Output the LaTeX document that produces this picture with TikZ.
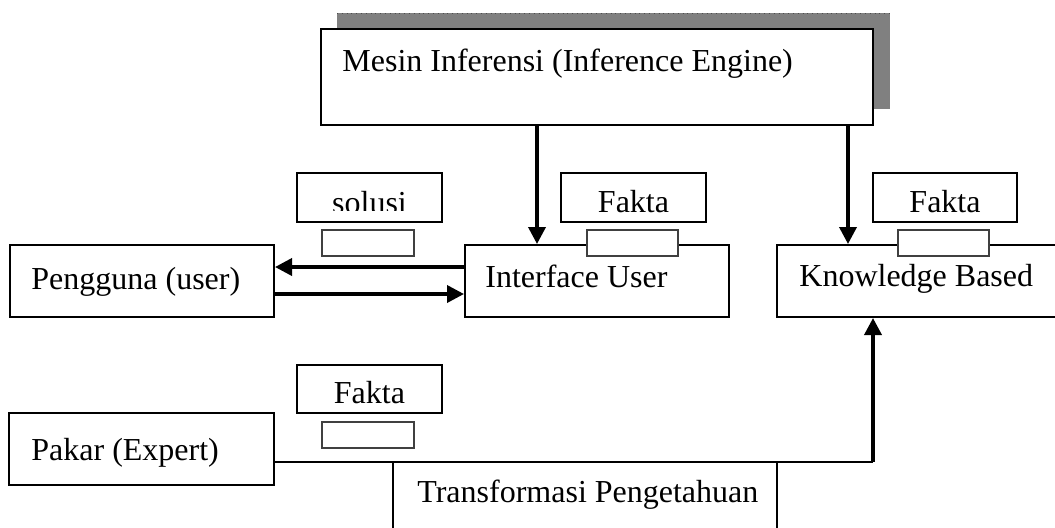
\documentclass[tikz,border=0pt]{standalone}
\usepackage{fontspec}
\setmainfont{Liberation Serif}
\usetikzlibrary{arrows.meta,fit}

\tikzset{
  x=0.5pt, y=-0.5pt,
  box/.style={draw, line width=1pt, fill=white, inner sep=0pt},
  tagbox/.style={draw, line width=1pt, fill=white, inner sep=0pt},
  slot/.style={draw=black!75, line width=0.6pt, fill=white, inner sep=0pt},
  lbl/.style={inner sep=0pt, anchor=base west, font=\fontsize{16}{19}\selectfont},
  tagtxt/.style={inner sep=0pt, anchor=base, font=\fontsize{16}{19}\selectfont},
  flow/.style={line width=1.8pt, -{Triangle[length=8.5pt,width=8.5pt]}},
  link/.style={line width=1pt},
}

\begin{document}
\begin{tikzpicture}
\clip (0,0) rectangle (1055,527);
\fill[white] (0,0) rectangle (1055,527);

% inference engine with its drop shadow
\fill[black!50] (337,13) rectangle (890,109);
\draw[black!70, line width=0.4pt, dotted] (337,13) -- (890,13);
\node[box, fit={(321,29)(873,125)}] (engine) {};
\node[lbl] (enginetxt) at (342,71) {Mesin Inferensi (Inference Engine)};

% main blocks
\node[box, fit={(10,245)(274,317)}] (user) {};
\node[lbl] (usertxt) at (31,289) {Pengguna (user)};
\node[box, fit={(465,245)(729,317)}] (iface) {};
\node[lbl] (ifacetxt) at (485,287) {Interface User};
\node[box, fit={(777,245)(1065,317)}] (kb) {};
\node[lbl] (kbtxt) at (799,286) {Knowledge Based};
\node[box, fit={(9,413)(274,485)}] (expert) {};
\node[lbl] (experttxt) at (31,460) {Pakar (Expert)};
\node[box, fit={(393,462)(777,560)}] (trans) {};
\node[lbl] (transtxt) at (417,502) {Transformasi Pengetahuan};

% labels above the flows
\node[tagbox, fit={(297,173)(442,222)}] (solusi) {};
\begin{scope}
  \clip (297,173) rectangle (442,210);
  \node[tagtxt] (solusitxt) at (369.5,213) {solusi};
\end{scope}
\node[tagbox, fit={(561,173)(706,222)}] (fakta1) {};
\node[tagtxt] (fakta1txt) at (633.5,212) {Fakta};
\node[tagbox, fit={(873,173)(1017,222)}] (fakta2) {};
\node[tagtxt] (fakta2txt) at (945,212) {Fakta};
\node[tagbox, fit={(297,365)(442,413)}] (fakta3) {};
\node[tagtxt] (fakta3txt) at (369.5,403) {Fakta};

% empty slots
\node[slot, fit={(322,230)(414,256)}] (slot1) {};
\node[slot, fit={(587,230)(678,256)}] (slot2) {};
\node[slot, fit={(898,230)(989,256)}] (slot3) {};
\node[slot, fit={(322,422)(414,448)}] (slot4) {};

% connectors
\coordinate (a1) at (537,0);
\coordinate (a2) at (848,0);
\coordinate (h1) at (0,267);
\coordinate (h2) at (0,294);
\coordinate (bend) at (873,462);

\draw[flow] (a1 |- engine.south) -- (a1 |- iface.north);
\draw[flow] (a2 |- engine.south) -- (a2 |- kb.north);
\draw[flow] (iface.west |- h1) -- (user.east |- h1);
\draw[flow] (user.east |- h2) -- (iface.west |- h2);
\draw[link] (expert.east |- bend) -- (bend);
\draw[flow] (bend) -- (bend |- kb.south);
\end{tikzpicture}
\end{document}
